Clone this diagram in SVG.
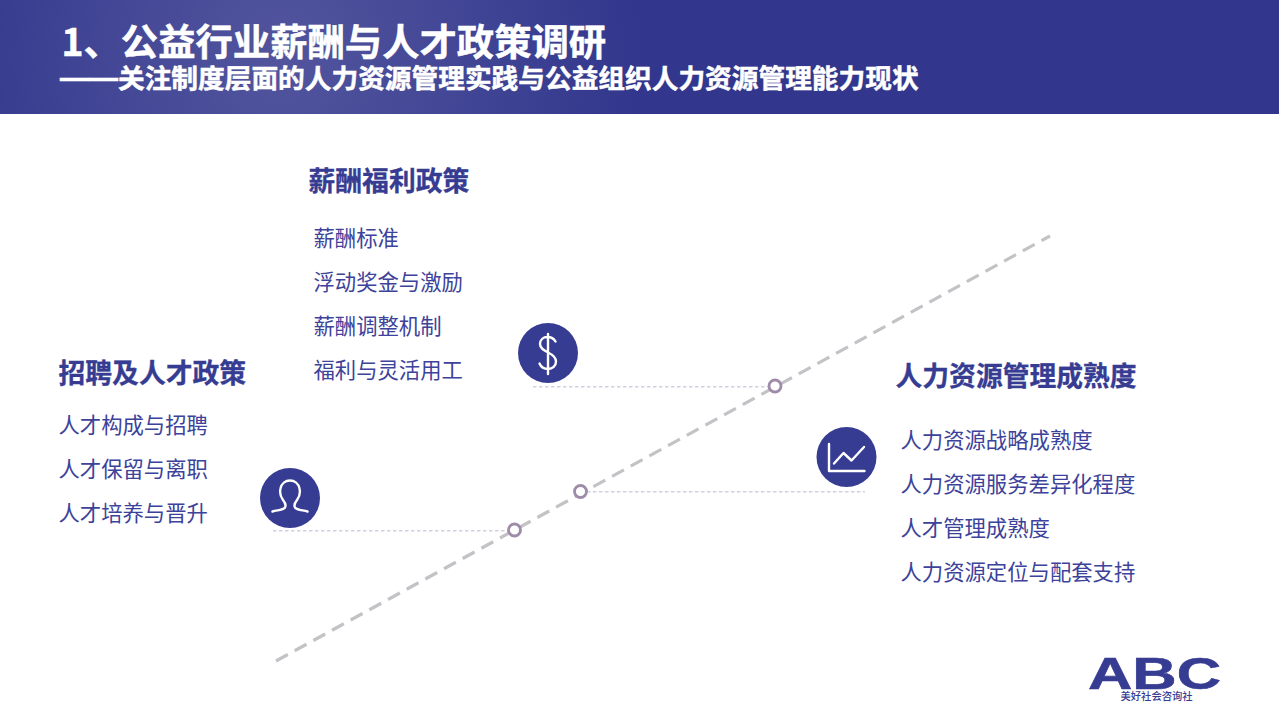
<svg xmlns="http://www.w3.org/2000/svg" width="1279" height="719" viewBox="0 0 1279 719">
<style>
text{font-family:"Noto Sans CJK SC","Noto Sans",sans-serif}
.t{fill:#fff;stroke:#fff;stroke-width:.5;font-weight:700}
.h{fill:#373c93;stroke:#373c93;stroke-width:.3;font-size:26.8px;font-weight:700}
.b{fill:#3d429a;font-size:21.35px;font-weight:400}
.c{fill:#373c93}
.i{fill:none;stroke:#fff;stroke-width:2.4;stroke-linecap:round;stroke-linejoin:round}
.dot{fill:#fff;stroke:#9d8ba8;stroke-width:2.8}
.lead{fill:none;stroke:#d3cfe0;stroke-width:1.5;stroke-dasharray:3.5 2.5}
</style>
<defs>
<radialGradient id="hdr" gradientUnits="userSpaceOnUse" cx="280" cy="55" r="360">
<stop offset="0" stop-color="#52559d"/><stop offset="1" stop-color="#32378d"/>
</radialGradient>
</defs>
<rect id="header" x="0" y="0" width="1279" height="114" fill="url(#hdr)"/>
<g id="title">
<text class="t" x="61.500" y="56" font-size="37.35px">1、公益行业薪酬与人才政策调研</text>
<text class="t" y="88" font-size="26.7px"><tspan x="60" font-size="29px" style="font-family:'Liberation Sans',sans-serif">——</tspan><tspan x="118">关注制度层面的人力资源管理实践与公益组织人力资源管理能力现状</tspan></text>
</g>
<g id="connectors">
<line x1="276" y1="661" x2="1050" y2="236" fill="none" stroke="#c4c2c6" stroke-width="3.2" stroke-dasharray="13.5 7.8"/>
<line class="lead" x1="533" y1="386.700" x2="768" y2="386.700"/>
<line class="lead" x1="273" y1="530.700" x2="508" y2="530.700"/>
<line class="lead" x1="587" y1="491.700" x2="865" y2="491.700"/>
</g>
<g id="dot-1"><circle class="dot" cx="775" cy="386" r="6"/></g>
<g id="dot-2"><circle class="dot" cx="580.500" cy="491.500" r="6"/></g>
<g id="dot-3"><circle class="dot" cx="514.500" cy="530" r="6"/></g>
<g id="node-salary">
<text class="h" x="308.500" y="190.500">薪酬福利政策</text>
<text class="b" x="313.500" y="245.800">薪酬标准</text>
<text class="b" x="313.500" y="289.800">浮动奖金与激励</text>
<text class="b" x="313.500" y="333.800">薪酬调整机制</text>
<text class="b" x="313.500" y="377.800">福利与灵活用工</text>
<circle class="c" cx="548" cy="353" r="30"/>
<path class="i" d="M555.500 341.500C553.500 338 550.500 337 547.500 337C543 337 540 340 540 344C540 348.500 544 350.500 548 352.500C552.500 354.700 556 357 556 361.500C556 366 552.500 369 548 369C544 369 541 367 539.500 363.500M548 334V374"/>
</g>
<g id="node-talent">
<text class="h" x="58.500" y="382.500">招聘及人才政策</text>
<text class="b" x="58.500" y="432.800">人才构成与招聘</text>
<text class="b" x="58.500" y="477">人才保留与离职</text>
<text class="b" x="58.500" y="520.800">人才培养与晋升</text>
<circle class="c" cx="290" cy="498" r="30"/>
<path class="i" d="M272.500 511.500C277 510 283 510.500 285 507.500C286.500 505 285 502.500 283 500C280.500 496.500 279.500 492.500 280.500 488.500C281.500 483.500 285.500 480.500 290 480.500C294.500 480.500 298.500 483.500 299.500 488.500C300.500 492.500 299.500 496.500 297 500C295 502.500 293.500 505 295 507.500C297 510.500 303 510 307.500 511.500"/>
</g>
<g id="node-maturity">
<text class="h" x="895.500" y="386">人力资源管理成熟度</text>
<text class="b" x="900.500" y="448.300">人力资源战略成熟度</text>
<text class="b" x="900.500" y="492.300">人力资源服务差异化程度</text>
<text class="b" x="900.500" y="536.300">人才管理成熟度</text>
<text class="b" x="900.500" y="580.300">人力资源定位与配套支持</text>
<circle class="c" cx="846.500" cy="457" r="30"/>
<path class="i" d="M829 444V471H864.500M834 463.500L843.500 453L851.500 460.500L864 447"/>
</g>
<g id="logo">
<text transform="translate(1088 689) scale(1.52 1)" font-size="45px" font-weight="700" fill="#373c93" stroke="#373c93" stroke-width=".6" textLength="87.500" lengthAdjust="spacingAndGlyphs" style="font-family:'Liberation Sans',Arial,sans-serif">ABC</text>
<text x="1120.500" y="700" font-size="10.3px" fill="#373c93" font-weight="500">美好社会咨询社</text>
</g>
</svg>
